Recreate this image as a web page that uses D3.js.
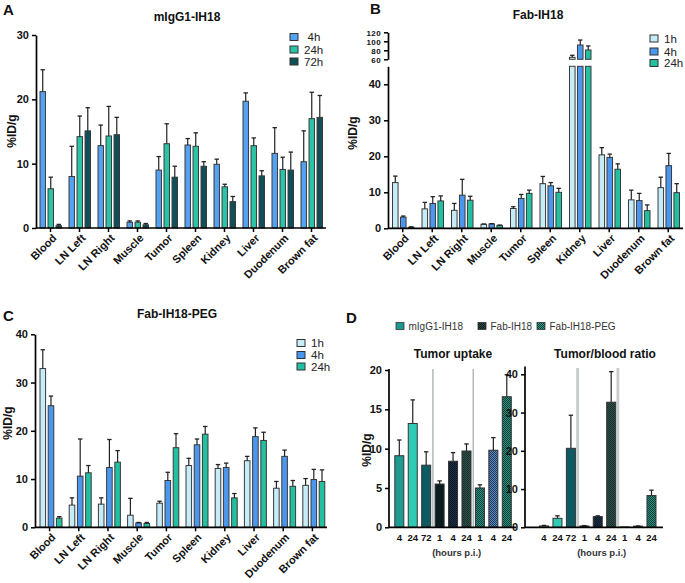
<!DOCTYPE html>
<html><head><meta charset="utf-8">
<script src="https://cdn.jsdelivr.net/npm/d3@7"></script>
<style>
body{margin:0;background:#fff;}
svg{display:block;font-family:"Liberation Sans",Arial,sans-serif;}
</style></head>
<body><svg id="c" width="685" height="583"></svg>
<script>
// ---------- DATA ----------
const organs = ["Blood","LN Left","LN Right","Muscle","Tumor","Spleen","Kidney","Liver","Duodenum","Brown fat"];

// Panel A: mIgG1-IH18
const timesA = ["4h","24h","72h"];
const mIgG1_4h      = [21.2, 8.0, 12.8, 0.9, 9.0, 12.9, 9.9, 19.7, 11.6, 10.3];
const mIgG1_4h_sd   = [3.4, 4.7, 3.2, 0.2, 2.1, 1.0, 0.8, 1.3, 4.0, 4.8];
const mIgG1_24h     = [6.1, 14.2, 14.3, 0.9, 13.1, 12.7, 6.4, 12.8, 9.1, 17.0];
const mIgG1_24h_sd  = [1.8, 3.2, 4.6, 0.2, 3.1, 2.1, 0.4, 1.2, 1.9, 4.1];
const mIgG1_72h     = [0.36, 15.1, 14.5, 0.5, 7.9, 9.6, 4.1, 8.1, 9.0, 17.2];
const mIgG1_72h_sd  = [0.2, 3.6, 2.7, 0.2, 1.7, 0.7, 0.8, 0.8, 2.8, 3.4];
const ticksA = [0, 10, 20, 30];

// Panel B: Fab-IH18
const timesB = ["1h","4h","24h"];
const fab_1h     = [12.7, 5.4, 5.0, 1.1, 5.5, 12.4, 64.4, 20.4, 7.9, 11.3];
const fab_1h_sd  = [1.8, 1.8, 1.9, 0.1, 0.5, 2.0, 4.5, 2.0, 2.7, 2.9];
const fab_4h     = [3.1, 6.9, 9.2, 1.2, 8.3, 11.8, 91.8, 19.7, 7.7, 17.4];
const fab_4h_sd  = [0.3, 1.9, 4.4, 0.1, 1.1, 0.9, 11.0, 0.9, 2.0, 3.4];
const fab_24h    = [0.3, 7.6, 7.8, 0.8, 9.7, 10.0, 80.7, 16.4, 4.9, 9.9];
const fab_24h_sd = [0.1, 1.4, 1.1, 0.1, 0.9, 1.1, 9.0, 1.5, 1.6, 2.5];
const ticksB_low = [0, 10, 20, 30, 40];
const ticksB_high = [60, 80, 100, 120];

// Panel C: Fab-IH18-PEG
const peg_1h     = [32.9, 4.6, 4.8, 2.5, 5.0, 12.8, 12.2, 13.8, 8.1, 8.7];
const peg_1h_sd  = [3.9, 1.5, 1.3, 3.5, 0.4, 1.5, 0.8, 0.9, 1.4, 1.4];
const peg_4h     = [25.2, 10.6, 12.4, 0.9, 9.7, 17.1, 12.4, 18.8, 14.7, 9.9];
const peg_4h_sd  = [2.0, 7.7, 5.8, 0.1, 1.7, 1.2, 0.9, 1.8, 1.3, 2.1];
const peg_24h    = [1.9, 11.3, 13.5, 0.8, 16.5, 19.3, 6.1, 18.0, 8.5, 9.5];
const peg_24h_sd = [0.3, 1.5, 2.4, 0.2, 2.9, 1.6, 0.9, 1.7, 1.2, 2.4];
const ticksC = [0, 10, 20, 30, 40];

// Panel D
const constructs = ["mIgG1-IH18","Fab-IH18","Fab-IH18-PEG"];
const hoursD = ["4","24","72","1","4","24","1","4","24"];
const tumorUptake    = [9.1, 13.2, 7.9, 5.5, 8.4, 9.7, 5.0, 9.8, 16.6];
const tumorUptake_sd = [2.0, 3.0, 1.7, 0.4, 1.1, 0.9, 0.4, 1.6, 2.8];
const tbRatio        = [0.35, 2.35, 20.65, 0.35, 2.8, 32.7, 0.1, 0.3, 8.3];
const tbRatio_sd     = [0.15, 0.65, 8.65, 0.1, 0.2, 8.0, 0, 0.05, 1.4];
const ticksD1 = [0, 5, 10, 15, 20];
const ticksD2 = [0, 10, 20, 30, 40];

// ---------- STYLE ----------
const colA = ["#55a2f2", "#2cc4a6", "#0f4f57"];
const colB = ["#c6ecf7", "#4b97ee", "#22bfa0"];
const svg = d3.select("#c");
const FONT = '"Liberation Sans",Arial,sans-serif';
const defs = svg.append("defs");

function checker(id, base, dark) {
  const p = defs.append("pattern").attr("id", id).attr("patternUnits", "userSpaceOnUse")
    .attr("width", 2).attr("height", 2);
  p.append("rect").attr("width", 2).attr("height", 2).attr("fill", base);
  p.append("rect").attr("width", 1).attr("height", 1).attr("fill", dark);
  p.append("rect").attr("x", 1).attr("y", 1).attr("width", 1).attr("height", 1).attr("fill", dark);
}
checker("pFab4", "#1d3048", "#0e1822");
checker("pFab24", "#2e5048", "#1a302c");
checker("pPeg1", "#2a8f7e", "#10403a");
checker("pPeg4", "#5a88c0", "#223a5a");
checker("pPeg24", "#2a8f7e", "#123f38");
checker("pLegFab", "#2a4a48", "#0c1a1a");
checker("pLegPeg", "#2fa08c", "#103832");

function text(x, y, s, opt = {}) {
  return svg.append("text").attr("x", x).attr("y", y).text(s)
    .attr("font-size", opt.size || 11).attr("font-weight", opt.weight || "bold")
    .attr("text-anchor", opt.anchor || "start").attr("fill", opt.fill || "#111")
    .attr("font-family", FONT);
}

function yAxis(y, x, ticks, size) {
  const g = svg.append("g").attr("transform", `translate(${x},0)`)
    .call(d3.axisLeft(y).tickValues(ticks).tickSize(4).tickPadding(3).tickSizeOuter(0));
  g.select(".domain").attr("stroke", "#000").attr("stroke-width", 1.7);
  g.selectAll(".tick line").attr("stroke", "#000").attr("stroke-width", 1.5);
  g.selectAll(".tick text").attr("font-size", size || 11).attr("font-weight", "bold")
    .attr("font-family", FONT).attr("fill", "#111");
  return g;
}

function xAxisOrgans(x0, y0, xr) {
  svg.append("line").attr("x1", xr[0]).attr("x2", xr[1]).attr("y1", y0).attr("y2", y0)
    .attr("stroke", "#000").attr("stroke-width", 1.7);
  organs.forEach(o => {
    const cx = x0(o) + x0.bandwidth() / 2;
    svg.append("line").attr("x1", cx).attr("x2", cx).attr("y1", y0).attr("y2", y0 + 4)
      .attr("stroke", "#000").attr("stroke-width", 1.5);
    svg.append("text").attr("transform", `translate(${cx + 4},${y0 + 8}) rotate(-45)`)
      .attr("text-anchor", "end").attr("dy", "0.35em").attr("font-size", 11)
      .attr("font-weight", "bold").attr("font-family", FONT).attr("fill", "#111").text(o);
  });
}

function errBar(cx, yTop, yErr) {
  svg.append("line").attr("x1", cx).attr("x2", cx).attr("y1", yTop).attr("y2", yErr)
    .attr("stroke", "#222").attr("stroke-width", 1.2);
  svg.append("line").attr("x1", cx - 2.2).attr("x2", cx + 2.2).attr("y1", yErr).attr("y2", yErr)
    .attr("stroke", "#222").attr("stroke-width", 1.3);
}

function legend(x, ys, labels, cols, indentShort) {
  labels.forEach((l, i) => {
    svg.append("rect").attr("x", x).attr("y", ys[i] - 3.5).attr("width", 8).attr("height", 7)
      .attr("fill", cols[i]).attr("stroke", "#333").attr("stroke-width", 1);
    const dx = (indentShort && l.length < 3) ? 3.5 : 0;
    text(x + 14 + dx, ys[i] + 4, l, { size: 11.5, weight: "normal", fill: "#222" });
  });
}

function organPanel(opt) {
  const x0 = d3.scaleBand().domain(organs).range(opt.xr).padding(0);
  const x1 = d3.scaleBand().domain(opt.times).range(opt.inner).paddingInner(0.32);
  const y = d3.scaleLinear().domain([0, opt.ymax]).range([opt.y0, opt.ytop]);
  opt.times.forEach((t, s) => {
    organs.forEach((o, i) => {
      const v = opt.means[s][i], sd = opt.sds[s][i];
      const bx = x0(o) + x1(t);
      svg.append("rect").attr("x", bx).attr("y", y(v)).attr("width", x1.bandwidth())
        .attr("height", y(0) - y(v)).attr("fill", opt.cols[s]).attr("stroke", "#3a3a3a").attr("stroke-width", 1);
      if (sd > 0) errBar(bx + x1.bandwidth() / 2, y(v), y(v + sd));
    });
  });
  yAxis(y, opt.xr[0], opt.ticks);
  xAxisOrgans(x0, opt.y0, opt.xr);
  return { x0, x1, y };
}

// ---------- PANEL A ----------
text(3, 15, "A", { size: 15 });
text(187, 21, "mIgG1-IH18", { size: 12, anchor: "middle" });
organPanel({
  xr: [36, 326], inner: [4, 25.5], times: timesA, ymax: 30, y0: 228, ytop: 35,
  means: [mIgG1_4h, mIgG1_24h, mIgG1_72h], sds: [mIgG1_4h_sd, mIgG1_24h_sd, mIgG1_72h_sd],
  cols: colA, ticks: ticksA
});
text(0, 0, "%ID/g", { size: 12, anchor: "middle" }).attr("transform", "translate(16,131) rotate(-90)");
legend(290, [37, 49.5, 61.5], timesA, colA, true);

// ---------- PANEL B (broken axis) ----------
text(370, 14, "B", { size: 15 });
text(538, 19, "Fab-IH18", { size: 12, anchor: "middle" });
{
  const xr = [388, 683];
  const x0 = d3.scaleBand().domain(organs).range(xr).padding(0);
  const x1 = d3.scaleBand().domain(timesB).range([4.5, 26]).paddingInner(0.3);
  const yLow = d3.scaleLinear().domain([0, 45]).range([228.3, 66.3]);
  const yHigh = d3.scaleLinear().domain([60, 120]).range([59.3, 32.3]);
  const means = [fab_1h, fab_4h, fab_24h], sds = [fab_1h_sd, fab_4h_sd, fab_24h_sd];
  timesB.forEach((t, s) => {
    organs.forEach((o, i) => {
      const v = means[s][i], sd = sds[s][i];
      const bx = x0(o) + x1(t), w = x1.bandwidth();
      if (v <= 45) {
        svg.append("rect").attr("x", bx).attr("y", yLow(v)).attr("width", w)
          .attr("height", yLow(0) - yLow(v)).attr("fill", colB[s]).attr("stroke", "#3a3a3a").attr("stroke-width", 1);
        if (sd > 0) errBar(bx + w / 2, yLow(v), yLow(v + sd));
      } else {
        svg.append("rect").attr("x", bx).attr("y", yLow(45)).attr("width", w)
          .attr("height", yLow(0) - yLow(45)).attr("fill", colB[s]).attr("stroke", "#3a3a3a").attr("stroke-width", 1);
        svg.append("rect").attr("x", bx).attr("y", yHigh(v)).attr("width", w)
          .attr("height", yHigh(60) - yHigh(v)).attr("fill", colB[s]).attr("stroke", "#3a3a3a").attr("stroke-width", 1);
        if (sd > 0) errBar(bx + w / 2, yHigh(v), yHigh(v + sd));
      }
    });
  });
  yAxis(yLow, xr[0], ticksB_low);
  const gh = yAxis(yHigh, xr[0], ticksB_high, 8);
  gh.selectAll(".tick text").attr("letter-spacing", 0.4).attr("dy", "0.34em");
  xAxisOrgans(x0, 228.3, xr);
  text(0, 0, "%ID/g", { size: 12, anchor: "middle" }).attr("transform", "translate(357,133) rotate(-90)");
  legend(650, [38.5, 51.5, 63], timesB, colB, false);
}

// ---------- PANEL C ----------
text(3, 321, "C", { size: 15 });
text(177, 318, "Fab-IH18-PEG", { size: 12, anchor: "middle" });
organPanel({
  xr: [35, 327], inner: [5, 27], times: timesB, ymax: 40, y0: 527.3, ytop: 334.3,
  means: [peg_1h, peg_4h, peg_24h], sds: [peg_1h_sd, peg_4h_sd, peg_24h_sd],
  cols: colB, ticks: ticksC
});
text(0, 0, "%ID/g", { size: 12, anchor: "middle" }).attr("transform", "translate(12,423) rotate(-90)");
legend(297, [343, 355, 366.5], timesB, colB, false);

// ---------- PANEL D ----------
text(346, 323, "D", { size: 15 });
const colD = ["#1f9a91", "#2fcab3", "#0e5a62", "#0c1c1e", "url(#pFab4)", "url(#pFab24)", "url(#pPeg1)", "url(#pPeg4)", "url(#pPeg24)"];
const legCols = ["#1f9a91", "url(#pLegFab)", "url(#pLegPeg)"];
const legX = [396, 478, 537];
constructs.forEach((c, i) => {
  svg.append("rect").attr("x", legX[i]).attr("y", 322.5).attr("width", 8).attr("height", 7)
    .attr("fill", legCols[i]).attr("stroke", "#333").attr("stroke-width", 0.8);
  text(legX[i] + 12.5, 329.5, c, { size: 10, weight: "normal", fill: "#333" });
});

function dPanel(opt) {
  const idx = d3.range(hoursD.length);
  const x = d3.scaleBand().domain(idx).range(opt.band).paddingInner(0.33).paddingOuter(0.165);
  const y = d3.scaleLinear().domain([0, opt.ymax]).range([527.3, opt.ytop]);
  [2, 5].forEach(k => {
    const sx = (x(k) + x.bandwidth() + x(k + 1)) / 2;
    svg.append("line").attr("x1", sx).attr("x2", sx).attr("y1", opt.sepTop).attr("y2", 527.3)
      .attr("stroke", opt.sepCol).attr("stroke-width", opt.sepW);
  });
  idx.forEach(i => {
    const v = opt.vals[i], sd = opt.sds[i];
    svg.append("rect").attr("x", x(i)).attr("y", y(v)).attr("width", x.bandwidth())
      .attr("height", y(0) - y(v)).attr("fill", colD[i]).attr("stroke", "#333").attr("stroke-width", 1);
    if (sd > 0) errBar(x(i) + x.bandwidth() / 2, y(v), y(v + sd));
    text(x(i) + x.bandwidth() / 2, 540.5, hoursD[i], { size: 9.5, anchor: "middle" });
  });
  const g = yAxis(y, opt.axisX, opt.ticks);
  g.select(".domain").remove();
  svg.append("line").attr("x1", opt.axisX).attr("x2", opt.axisX).attr("y1", opt.axisTop).attr("y2", 527.3)
    .attr("stroke", "#000").attr("stroke-width", 1.7);
  svg.append("line").attr("x1", opt.axisX).attr("x2", opt.axisEnd).attr("y1", 527.3).attr("y2", 527.3)
    .attr("stroke", "#000").attr("stroke-width", 1.7);
  text(opt.subX, 556, "(hours p.i.)", { size: 9.5, anchor: "middle", fill: "#333" });
  text(opt.titleX, 358, opt.title, { size: 12, anchor: "middle" });
}
dPanel({ band: [392.6, 513.5], ymax: 20, ytop: 370, vals: tumorUptake, sds: tumorUptake_sd, ticks: ticksD1,
  axisX: 389, axisEnd: 516, axisTop: 369, sepTop: 369, sepCol: "#9aa0a3", sepW: 1.1,
  title: "Tumor uptake", titleX: 453, subX: 456.7 });
dPanel({ band: [537.3, 658.2], ymax: 40, ytop: 374.3, vals: tbRatio, sds: tbRatio_sd, ticks: ticksD2,
  axisX: 525, axisEnd: 663, axisTop: 366.5, sepTop: 368, sepCol: "#c8cccd", sepW: 2.8,
  title: "Tumor/blood ratio", titleX: 605, subX: 601.7 });
text(0, 0, "%ID/g", { size: 12, anchor: "middle" }).attr("transform", "translate(371,450) rotate(-90)");
</script></body></html>
